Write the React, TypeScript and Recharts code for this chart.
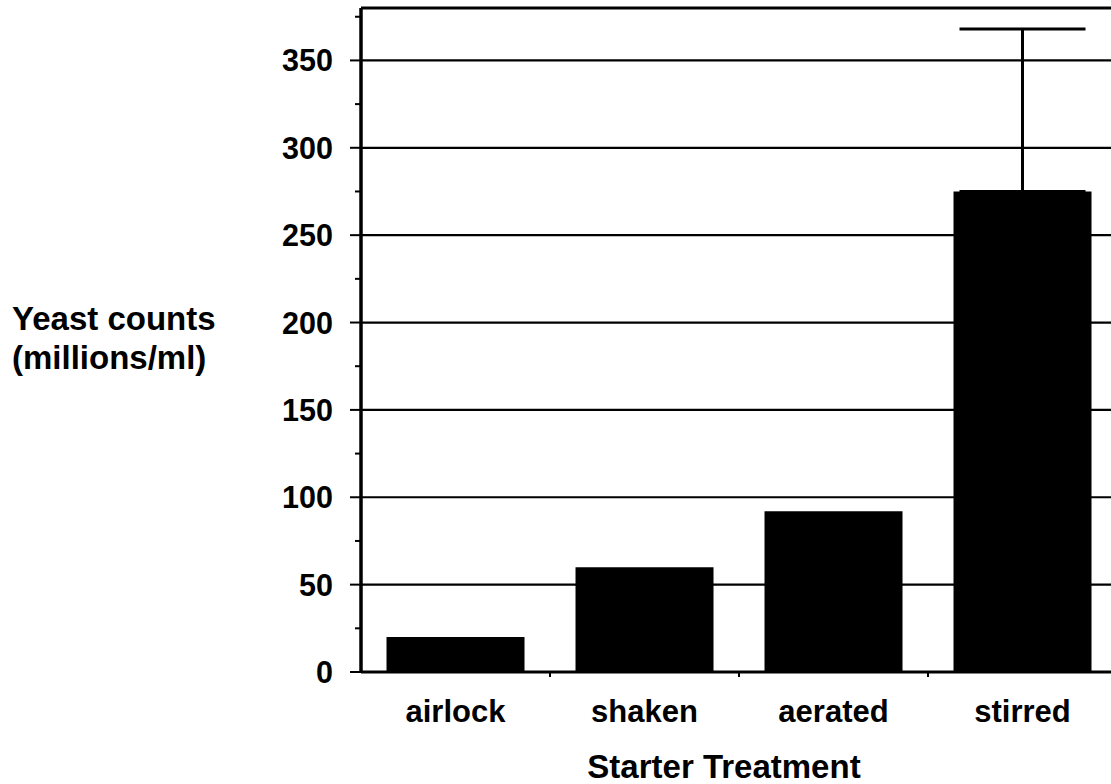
import React from "react";
import { BarChart, Bar, XAxis, YAxis, CartesianGrid, ErrorBar, ReferenceLine } from "recharts";

// treatment groups and mean yeast counts (millions/ml)
const treatments = ["airlock", "shaken", "aerated", "stirred"];
const counts = [20, 60, 92, 275];
// upward error only; null = no error bar drawn
const countErrors: ([number, number] | null)[] = [null, null, null, [0, 93]];

const majorTicks = [0, 50, 100, 150, 200, 250, 300, 350];
const minorTicks = [25, 75, 125, 175, 225, 275, 325, 375];
const yMax = 380;

const data = treatments.map((name, i) => ({
  name,
  count: counts[i],
  err: countErrors[i],
}));

const FONT = "'Liberation Sans', Arial, Helvetica, sans-serif";
const CHART_W = 1130;
const CHART_H = 784;
const PLOT_LEFT = 361;
const PLOT_RIGHT = 1117;
const AXIS_Y = 672;
const BAND = (PLOT_RIGHT - PLOT_LEFT) / treatments.length;

const YTick = (props: any) => {
  const { y, payload } = props;
  const major = majorTicks.includes(payload.value);
  return (
    <g>
      <line
        x1={PLOT_LEFT - (major ? 11 : 6)}
        x2={PLOT_LEFT}
        y1={y}
        y2={y}
        stroke="#000"
        strokeWidth={2}
      />
      {major && (
        <text
          x={PLOT_LEFT - 28}
          y={y}
          dy="0.36em"
          textAnchor="end"
          fontFamily={FONT}
          fontWeight="bold"
          fontSize={30.5}
          fill="#000"
        >
          {payload.value}
        </text>
      )}
    </g>
  );
};

const XTick = (props: any) => {
  const { x, payload, index } = props;
  return (
    <g>
      {index > 0 && (
        <line
          x1={x - BAND / 2}
          x2={x - BAND / 2}
          y1={AXIS_Y}
          y2={AXIS_Y + 5}
          stroke="#000"
          strokeWidth={2}
        />
      )}
      <text
        x={x}
        y={722}
        textAnchor="middle"
        fontFamily={FONT}
        fontWeight="bold"
        fontSize={31}
        fill="#000"
      >
        {payload.value}
      </text>
    </g>
  );
};

const YLabel = () => (
  <text fontFamily={FONT} fontWeight="bold" fontSize={33} fill="#000" textAnchor="start">
    <tspan x={12} y={330}>Yeast counts</tspan>
    <tspan x={12} y={369}>(millions/ml)</tspan>
  </text>
);

const XLabel = () => (
  <text
    x={724}
    y={778}
    textAnchor="middle"
    fontFamily={FONT}
    fontWeight="bold"
    fontSize={33}
    fill="#000"
  >
    Starter Treatment
  </text>
);

export default function App() {
  return (
    <div
      style={{
        position: "fixed",
        left: 0,
        top: 0,
        width: 1111,
        height: 784,
        overflow: "hidden",
        background: "#fff",
        fontFamily: FONT,
      }}
    >
      <BarChart
        width={CHART_W}
        height={CHART_H}
        data={data}
        margin={{ top: 8, right: CHART_W - PLOT_RIGHT, bottom: 0, left: 0 }}
        barCategoryGap="13.5%"
      >
        <CartesianGrid
          yAxisId="left"
          vertical={false}
          horizontalValues={majorTicks}
          stroke="#000"
          strokeWidth={2.2}
        />
        <XAxis
          dataKey="name"
          height={CHART_H - AXIS_Y}
          axisLine={{ stroke: "#000", strokeWidth: 3 }}
          tickLine={false}
          tick={<XTick />}
          interval={0}
          label={{ content: <XLabel /> }}
        />
        <YAxis
          yAxisId="left"
          width={PLOT_LEFT}
          domain={[0, yMax]}
          ticks={[...majorTicks, ...minorTicks].sort((a, b) => a - b)}
          interval={0}
          axisLine={{ stroke: "#000", strokeWidth: 3.5 }}
          tickLine={false}
          tick={<YTick />}
          label={{ content: <YLabel /> }}
        />
        {/* frame line along the top of the plot */}
        <ReferenceLine y={yMax} yAxisId="left" stroke="#000" strokeWidth={3} ifOverflow="extendDomain" />
        <Bar dataKey="count" yAxisId="left" fill="#000" isAnimationActive={false}>
          <ErrorBar
            dataKey="err"
            width={63}
            stroke="#000"
            strokeWidth={3}
            direction="y"
            isAnimationActive={false}
          />
        </Bar>
      </BarChart>
    </div>
  );
}
